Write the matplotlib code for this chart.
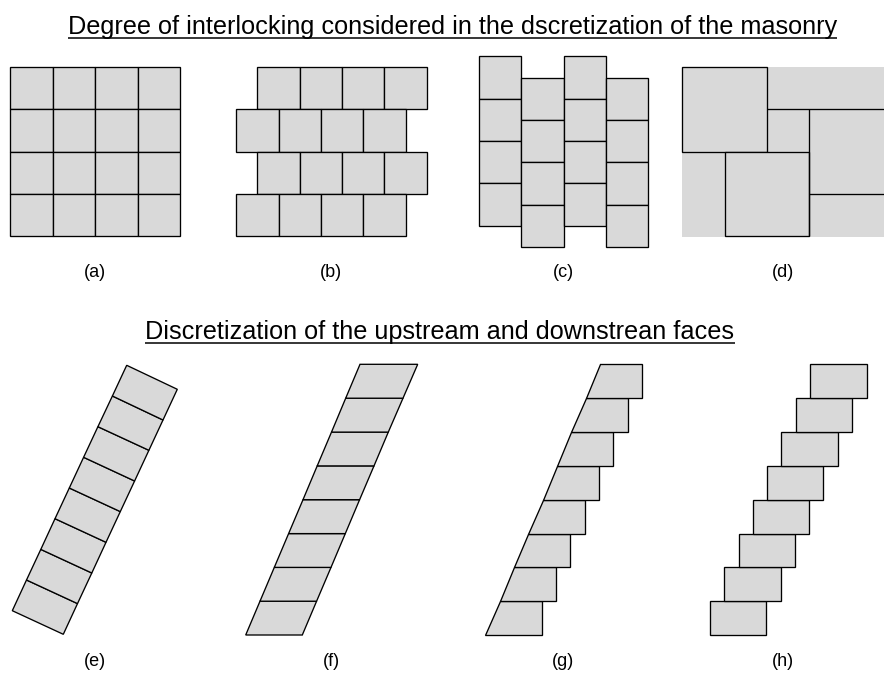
import matplotlib
matplotlib.use("Agg")
import matplotlib.pyplot as plt
from matplotlib.patches import Polygon, Rectangle

plt.rcParams['font.family'] = ['Liberation Sans', 'DejaVu Sans']

W, H = 884, 673
FILL = '#d9d9d9'
EDGE = '#000000'
LW = 0.95

# --- block geometry (in image pixels) ---
A_X = [10.0, 52.5, 95.0, 137.5, 180.0]
GRID_Y = [67.0, 109.4, 151.7, 194.0, 236.3]
B_X_ODD = [257.3, 299.7, 342.0, 384.3, 426.8]
B_X_EVEN = [236.3, 278.7, 321.0, 363.3, 405.8]
C_X = [479.0, 521.3, 563.7, 606.0, 648.3]
C_Y_ODD = [56.3, 98.7, 141.0, 183.3, 225.7]
C_Y_EVEN = [77.7, 120.0, 162.3, 204.6, 246.9]

D_BG = [682.0, 884.0, 67.0, 236.7]
D_SQUARES = [(682.0, 767.0, 67.0, 151.7), (724.7, 809.3, 151.7, 236.3)]
D_LINES = [((767.0, 884.0), (109.4, 109.4)),
           ((809.3, 809.3), (109.4, 236.3)),
           ((809.3, 884.0), (194.0, 194.0))]

E_LEFT = [(12.3, 610.7), (26.5, 580.0), (40.8, 549.4), (55.0, 518.7),
          (69.3, 488.0), (83.6, 457.3), (97.9, 426.7), (112.4, 396.0), (126.7, 365.3)]
E_RIGHT = [(63.3, 634.3), (77.5, 603.6), (91.8, 573.0), (106.0, 542.3),
           (120.3, 511.6), (134.6, 481.0), (148.9, 450.3), (163.0, 420.0), (177.3, 389.3)]

ROW_Y = [635.0, 601.2, 567.4, 533.6, 499.7, 465.9, 432.1, 398.2, 364.3]
F_LEFT = [245.7, 260.0, 274.3, 288.6, 303.0, 317.2, 331.5, 345.7, 360.0]
F_RIGHT = [302.3, 316.6, 331.0, 345.3, 359.6, 374.0, 388.3, 403.0, 417.7]

G_LEFT = [485.3, 499.6, 514.0, 528.3, 542.7, 557.0, 571.3, 585.7, 600.0]
G_RIGHT = [541.7, 556.0, 570.4, 584.7, 599.0, 613.4, 627.7, 642.3]

H_LEFT = [710.0, 724.4, 738.7, 753.0, 767.0, 781.3, 795.8, 810.3]
H_RIGHT = [766.3, 780.7, 795.0, 809.3, 823.4, 837.7, 852.2, 866.7]

LABELS = ['(a)', '(b)', '(c)', '(d)', '(e)', '(f)', '(g)', '(h)']
LABEL_X = [95, 331, 563, 783, 95, 331, 563, 783]
LABEL_Y = [276.7, 276.7, 276.7, 276.7, 666, 666, 666, 666]

TITLES = ['Degree of interlocking considered in the dscretization of the masonry',
          'Discretization of the upstream and downstrean faces']
TITLE_X = [67.5, 145.0]
TITLE_END = [836.5, 735.0]
TITLE_Y = [34.0, 339.5]
UNDERLINE_Y = [37.5, 342.8]

fig = plt.figure(figsize=(W / 100, H / 100), dpi=100, facecolor='white')
ax = fig.add_axes([0, 0, 1, 1])
ax.set_xlim(0, W)
ax.set_ylim(H, 0)
ax.axis('off')


def rect(x0, x1, y0, y1):
    ax.add_patch(Rectangle((x0, y0), x1 - x0, y1 - y0, fc=FILL, ec=EDGE, lw=LW, joinstyle='miter'))


def poly(pts):
    ax.add_patch(Polygon(pts, closed=True, fc=FILL, ec=EDGE, lw=LW, joinstyle='miter'))


# (a)
for r in range(4):
    for c in range(4):
        rect(A_X[c], A_X[c + 1], GRID_Y[r], GRID_Y[r + 1])
# (b)
for r in range(4):
    xs = B_X_ODD if r % 2 == 0 else B_X_EVEN
    for c in range(4):
        rect(xs[c], xs[c + 1], GRID_Y[r], GRID_Y[r + 1])
# (c)
for c in range(4):
    ys = C_Y_ODD if c % 2 == 0 else C_Y_EVEN
    for r in range(4):
        rect(C_X[c], C_X[c + 1], ys[r], ys[r + 1])
# (d)
ax.add_patch(Rectangle((D_BG[0], D_BG[2]), D_BG[1] - D_BG[0], D_BG[3] - D_BG[2], fc=FILL, ec='none', lw=0))
for s in D_SQUARES:
    rect(*s)
for lx, ly in D_LINES:
    ax.plot(lx, ly, color=EDGE, lw=LW, solid_capstyle='butt')
# (e)
for i in range(8):
    poly([E_LEFT[i], E_RIGHT[i], E_RIGHT[i + 1], E_LEFT[i + 1]])
# (f)
for i in range(8):
    poly([(F_LEFT[i], ROW_Y[i]), (F_RIGHT[i], ROW_Y[i]), (F_RIGHT[i + 1], ROW_Y[i + 1]), (F_LEFT[i + 1], ROW_Y[i + 1])])
# (g)
for i in range(8):
    poly([(G_LEFT[i], ROW_Y[i]), (G_RIGHT[i], ROW_Y[i]), (G_RIGHT[i], ROW_Y[i + 1]), (G_LEFT[i + 1], ROW_Y[i + 1])])
# (h)
for i in range(8):
    rect(H_LEFT[i], H_RIGHT[i], ROW_Y[i + 1], ROW_Y[i])

for s, x, y in zip(LABELS, LABEL_X, LABEL_Y):
    ax.text(x, y, s, ha='center', va='baseline', fontsize=13, color='black')
for s, x, y, xe, uy in zip(TITLES, TITLE_X, TITLE_Y, TITLE_END, UNDERLINE_Y):
    ax.text(x, y, s, ha='left', va='baseline', fontsize=18.2, color='black')
    ax.plot([x, xe], [uy, uy], color='black', lw=1.1, solid_capstyle='butt')

fig.savefig('out.png', dpi=100, facecolor='white')
